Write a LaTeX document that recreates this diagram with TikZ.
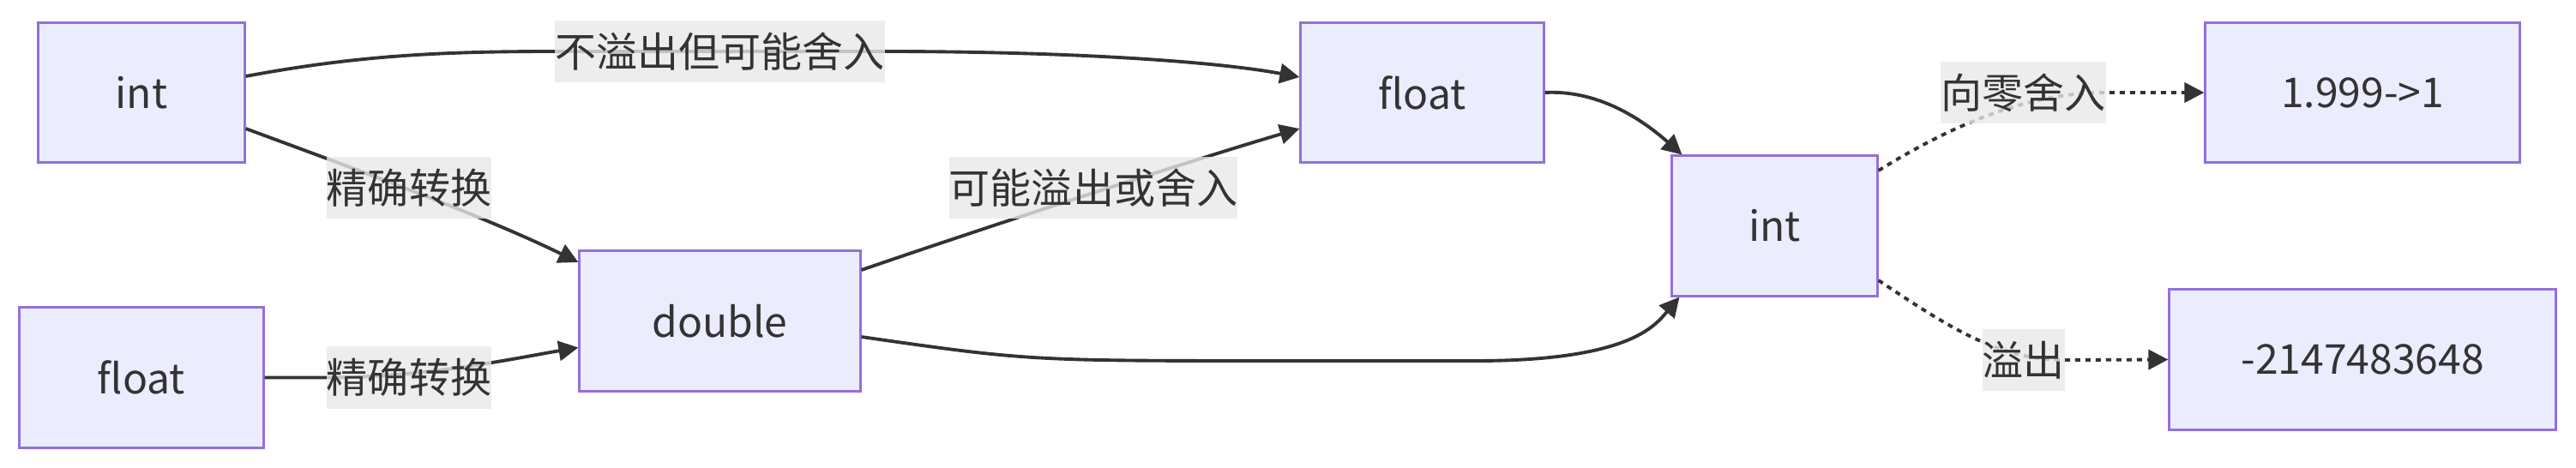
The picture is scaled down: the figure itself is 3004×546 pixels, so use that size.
\documentclass[tikz,border=0pt]{standalone}
\usepackage{fontspec}
\setmainfont{Noto Sans CJK SC}
\usepackage{xcolor}
\usetikzlibrary{arrows.meta}
\definecolor{colcaja}{HTML}{ECECFF}
\definecolor{colborde}{HTML}{9370DB}
\definecolor{collinea}{HTML}{333333}
\definecolor{colfondo}{HTML}{E8E8E8}

\begin{document}
\begin{tikzpicture}[x=0.01cm,y=-0.01cm,
    font=\fontsize{13.66}{16}\selectfont, text=collinea,
    caja/.style={draw=colborde,fill=colcaja,line width=0.85pt,minimum height=1.63cm,inner sep=0pt},
    etiqueta/.style={fill=colfondo,fill opacity=0.8,text opacity=1,inner sep=0pt,minimum height=0.72cm},
    flecha/.style={draw=collinea,line width=1.1pt,-{Triangle[length=0.23cm,width=0.23cm]}},
    punteada/.style={flecha,dash pattern=on 0.06cm off 0.06cm}]
    \useasboundingbox (0,0) rectangle (3004,546);

    % Cajas
    \node[caja,minimum width=2.40cm] (intA) at (165,108) {int};
    \node[caja,minimum width=2.84cm] (floatA) at (165,440.5) {float};
    \node[caja,minimum width=3.27cm] (double) at (839.5,374.5) {double};
    \node[caja,minimum width=2.83cm] (floatB) at (1658.5,108) {float};
    \node[caja,minimum width=2.39cm] (intB) at (2069.5,263.5) {int};
    \node[caja,minimum width=3.66cm] (res1) at (2755,108) {1.999->1};
    \node[caja,minimum width=4.50cm] (res2) at (2755,419.5) {-2147483648};

    % Conversiones
    \draw[flecha] ([yshift=0.19cm]intA.east) .. controls (420,64) and (520,60) .. (648,60) -- (1031,60) .. controls (1250,60) and (1420,72) .. ([yshift=0.18cm]floatB.west);
    \draw[flecha] ([yshift=-0.42cm]intA.east) .. controls (400,192) and (560,250) .. ([yshift=0.685cm]double.west);
    \draw[flecha] (floatA.east) -- (381,440.5) .. controls (500,440) and (600,418) .. ([yshift=-0.31cm]double.west);
    \draw[flecha] ([yshift=0.595cm]double.east) .. controls (1150,265) and (1380,190) .. ([yshift=-0.42cm]floatB.west);
    \draw[flecha] ([yshift=-0.185cm]double.east) .. controls (1200,421) .. (1500,421) -- (1720,421) .. controls (1900,421) and (1930,380) .. ([xshift=0.1cm]intB.south west);
    \draw[flecha] (floatB.east) .. controls (1860,105) and (1910,135) .. ([xshift=0.13cm]intB.north west);

    % Resultados (líneas punteadas)
    \draw[punteada] ([yshift=0.645cm]intB.east) .. controls (2270,150) and (2360,108) .. (2455,108) -- (res1.west);
    \draw[punteada] ([yshift=-0.635cm]intB.east) .. controls (2270,380) and (2330,420) .. (2407,420) -- (res2.west);

    % Etiquetas
    \node[etiqueta] (lab1) at (839.5,60) {不溢出但可能舍入};
    \node[etiqueta] (lab2) at (477,219) {精确转换};
    \node[etiqueta] (lab3) at (477,440.5) {精确转换};
    \node[etiqueta] (lab4) at (1275,219) {可能溢出或舍入};
    \node[etiqueta] (lab5) at (2359.5,108) {向零舍入};
    \node[etiqueta] (lab6) at (2359.5,420) {溢出};
\end{tikzpicture}
\end{document}
